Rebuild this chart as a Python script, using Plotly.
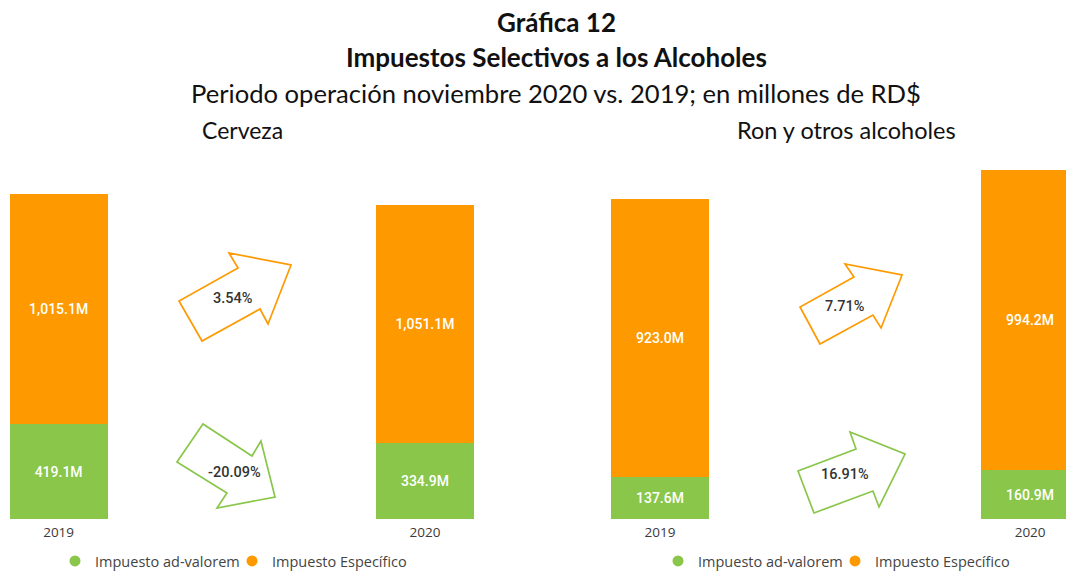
import plotly.graph_objects as go

# data (millones de RD$)
years = ["2019", "2020"]
cerveza_advalorem = [419.1, 334.9]
cerveza_especifico = [1015.1, 1051.1]
ron_advalorem = [137.6, 160.9]
ron_especifico = [923.0, 994.2]
# variacion 2020 vs 2019: [ad-valorem, especifico]
cerveza_var = ["-20.09%", "3.54%"]
ron_var = ["16.91%", "7.71%"]

GREEN = "#89C64A"
ORANGE = "#FE9A00"
W, H = 1066, 571


def pt(x, y):
    # pixel -> paper coords
    return x / W, (H - y) / H


def arrow_path(points):
    coords = [pt(x, y) for x, y in points]
    return "M " + " L ".join(f"{x:.4f},{y:.4f}" for x, y in coords) + " Z"


fig = go.Figure()

bar_w = 0.267
label_font = dict(color="white", family="Roboto", size=14, weight=500)
panels = [
    ("x", "y", "legend", cerveza_advalorem, cerveza_especifico),
    ("x2", "y2", "legend2", ron_advalorem, ron_especifico),
]
for xa, ya, lg, adv, esp in panels:
    for name, vals, color in [("Impuesto ad-valorem", adv, GREEN), ("Impuesto Específico", esp, ORANGE)]:
        fig.add_trace(go.Bar(x=years, y=vals, name=name, marker_color=color, marker_line_width=0,
                             width=bar_w, xaxis=xa, yaxis=ya, showlegend=False,
                             texttemplate="%{y:,.1f}M", textposition="inside", insidetextanchor="middle",
                             textangle=0, constraintext="none", textfont=label_font, hoverinfo="skip"))
    # legend entries with round markers
    for name, color in [("Impuesto ad-valorem", GREEN), ("Impuesto Específico", ORANGE)]:
        fig.add_trace(go.Scatter(x=[None], y=[None], mode="markers", name=name, xaxis=xa, yaxis=ya,
                                 legend=lg, marker=dict(color=color, size=11, symbol="circle")))

# block arrows (decoration), pixel outlines
arrows = [
    (ORANGE, [(202, 341), (179, 301), (238, 268), (229, 253), (291, 265), (268, 324), (260, 309)]),
    (GREEN, [(203, 424), (177, 462), (227, 493), (217, 508), (275, 497), (261, 441), (252, 456)]),
    (ORANGE, [(820, 344), (800, 307), (854, 277), (845, 264), (902, 275), (881, 328), (873, 315)]),
    (GREEN, [(814, 513), (798, 471), (856, 449), (850, 432), (905, 454), (879, 507), (873, 491)]),
]
for color, pts in arrows:
    fig.add_shape(type="path", path=arrow_path(pts), xref="paper", yref="paper",
                  line=dict(color=color, width=1.7), fillcolor="rgba(0,0,0,0)")

var_font = dict(family="Roboto", size=14.5, color="#333333", weight=500)
var_pos = [((233, 298), cerveza_var[1]), ((234, 472), cerveza_var[0]),
           ((845, 307), ron_var[1]), ((845, 474), ron_var[0])]
for (x, y), txt in var_pos:
    px_, py_ = pt(x, y)
    fig.add_annotation(x=px_, y=py_, xref="paper", yref="paper", text=txt, showarrow=False,
                       font=var_font, xanchor="center", yanchor="middle")

# titles
titles = [
    ((556, 22), "<b>Gráfica 12</b>", 26),
    ((556, 57), "<b>Impuestos Selectivos a los Alcoholes</b>", 26),
    ((556, 93), "Periodo operación noviembre 2020 vs. 2019; en millones de RD$", 25.6),
    ((242, 130), "Cerveza", 23),
    ((846, 130), "Ron y otros alcoholes", 23.5),
]
for (x, y), txt, size in titles:
    px_, py_ = pt(x, y)
    fig.add_annotation(x=px_, y=py_, xref="paper", yref="paper", text=txt, showarrow=False,
                       font=dict(family="Lato", size=size, color="#111111"),
                       xanchor="center", yanchor="middle")

tick_font = dict(family="Open Sans", size=13.5, color="#3A3A3A")
y0, y1 = pt(0, 519)[1], pt(0, 160)[1]
axis_common = dict(showgrid=False, zeroline=False, showline=False, ticks="", tickfont=tick_font,
                   ticklabelstandoff=3, type="category", fixedrange=True)
legend_common = dict(orientation="h", yanchor="middle", xanchor="left", traceorder="normal",
                     font=dict(family="Open Sans", size=14.5, color="#444444"), bgcolor="rgba(0,0,0,0)",
                     itemclick=False, itemwidth=30, borderwidth=0, entrywidth=132)

fig.update_layout(
    width=W, height=H,
    margin=dict(l=0, r=0, t=0, b=0, autoexpand=False),
    paper_bgcolor="white", plot_bgcolor="white",
    barmode="stack",
    xaxis=dict(domain=[0, 0.5], range=[-0.160, 1.295], anchor="y", **axis_common),
    xaxis2=dict(domain=[0.5, 1], range=[-0.343, 1.097], anchor="y2", **axis_common),
    yaxis=dict(domain=[y0, y1], range=[0, 1584], visible=False, anchor="x", fixedrange=True),
    yaxis2=dict(domain=[y0, y1], range=[0, 1189], visible=False, anchor="x2", fixedrange=True),
    legend=dict(x=55 / W, y=pt(0, 561)[1], **legend_common),
    legend2=dict(x=658 / W, y=pt(0, 561)[1], **legend_common),
    showlegend=True,
    hovermode=False,
)

fig.write_html("out.html", config={"displayModeBar": False},
               post_script="document.body.style.margin='0';")
